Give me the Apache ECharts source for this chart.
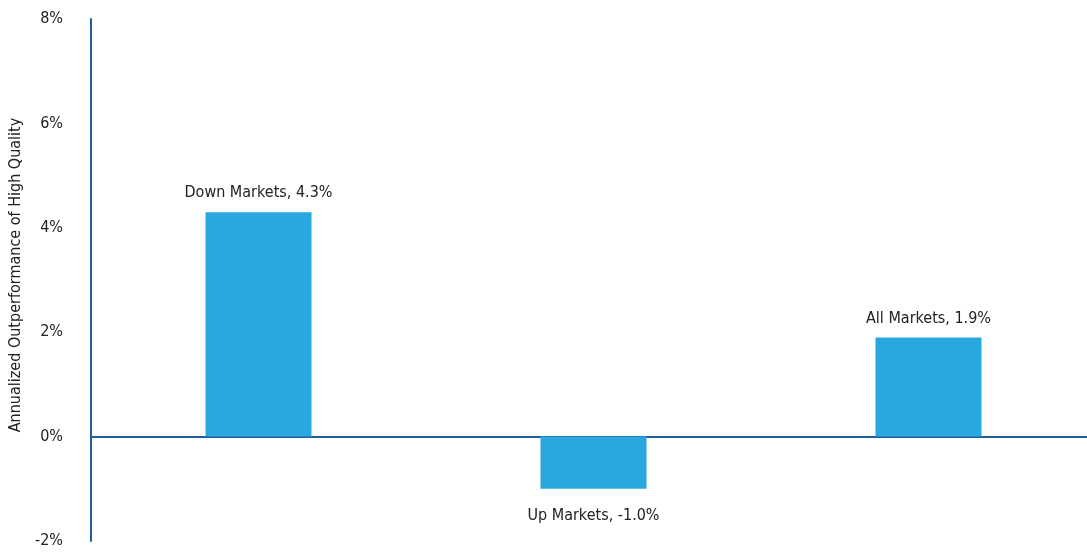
<!DOCTYPE html>
<html>
<head>
<meta charset="utf-8">
<style>
  html, body { margin: 0; padding: 0; background: #ffffff; }
  #chart { width: 1087px; height: 552px; }
</style>
<script src="https://cdn.jsdelivr.net/npm/echarts@6/dist/echarts.min.js"></script>
</head>
<body>
<div id="chart"></div>
<script>
// Market regimes and the annualized outperformance of high-quality stocks (%)
const categories = ['Down Markets', 'Up Markets', 'All Markets'];
const outperformance = [4.3, -1.0, 1.9];
const yTicks = [-2, 0, 2, 4, 6, 8];

const FONT = '"Liberation Sans Narrow", "DejaVu Sans Condensed", "Roboto", sans-serif';
const AXIS_BLUE = '#1f5f99';
const BAR_BLUE = '#29a8e0';

const chart = echarts.init(document.getElementById('chart'), null, { renderer: 'canvas' });

const seriesData = outperformance.map(v => ({
  value: v,
  label: v >= 0 ? { position: 'top', distance: 11 } : { position: 'bottom', distance: 19 }
}));

chart.setOption({
  animation: false,
  backgroundColor: '#ffffff',
  grid: {
    left: 91, top: 19, bottom: 11, width: 1005,
    containLabel: false,
    outerBoundsMode: 'none'
  },
  xAxis: {
    type: 'category',
    data: categories,
    axisLine: { show: true, onZero: true, lineStyle: { color: AXIS_BLUE, width: 2 } },
    axisTick: { show: false },
    axisLabel: { show: false },
    splitLine: { show: false }
  },
  yAxis: {
    type: 'value',
    min: yTicks[0],
    max: yTicks[yTicks.length - 1],
    interval: 2,
    name: 'Annualized Outperformance of High Quality',
    nameLocation: 'middle',
    nameGap: 67,
    nameTextStyle: { fontFamily: FONT, fontSize: 16, color: '#222222', padding: [0, 0, 0, 10] },
    axisLine: { show: true, lineStyle: { color: AXIS_BLUE, width: 2 } },
    axisTick: { show: false },
    splitLine: { show: false },
    axisLabel: {
      margin: 28,
      fontFamily: FONT,
      fontSize: 16,
      color: '#222222',
      formatter: v => v + '%'
    }
  },
  series: [{
    type: 'bar',
    data: seriesData,
    barWidth: 106,
    itemStyle: { color: BAR_BLUE },
    label: {
      show: true,
      fontFamily: FONT,
      fontSize: 16,
      color: '#222222',
      formatter: p => categories[p.dataIndex] + ', ' + p.value.toFixed(1) + '%'
    }
  }]
});
</script>
</body>
</html>
